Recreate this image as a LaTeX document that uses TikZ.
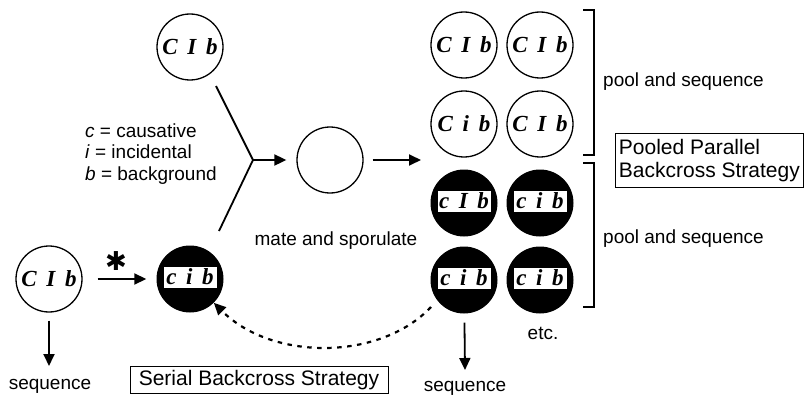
\documentclass[tikz,border=0pt]{standalone}
\usepackage{fontspec}
\setmainfont{Liberation Sans}
\newfontfamily\geno{Liberation Serif}
\newfontfamily\symb{DejaVu Sans}
\usetikzlibrary{arrows.meta}
\newcommand{\gt}[3]{{\geno\bfseries\itshape #1\hspace{0.42em}#2\hspace{0.42em}#3}}
\begin{document}
\begin{tikzpicture}[x=1pt,y=-1pt,
  txt/.style={font=\fontsize{19}{21}\selectfont, inner sep=0pt},
  boxtxt/.style={font=\fontsize{21}{24}\selectfont, draw, line width=0.7pt},
  cir/.style={circle, draw, line width=1.3pt, minimum size=66pt, inner sep=0pt,
              font=\fontsize{23}{23}\selectfont},
  blk/.style={circle, fill=black, minimum size=67pt, inner sep=0pt},
  tag/.style={fill=white, draw=black, line width=0.8pt, minimum width=54pt,
              minimum height=22pt, inner sep=0pt, font=\fontsize{23}{23}\selectfont},
  arr/.style={-{Triangle[length=12pt,width=11pt]}, line width=1.8pt},
  link/.style={line width=1.8pt}]
\useasboundingbox (0,0) rectangle (804,396);

% parent strain and the fork into mating
\node[cir] (top) at (190,47) {\gt CIb};
\coordinate (fu) at (216,86);
\coordinate (fv) at (253,160);
\coordinate (fl) at (219,231);
\draw[link] (fu) -- (fv) -- (fl);
\node[cir] (mate) at (330,160) {};
\draw[arr, shorten >=10pt] (fv) -- (mate);
\node[txt] (mlab) at (336,241) {mate and sporulate};

% legend
\node[txt, anchor=west, align=left, font=\fontsize{19}{21.5}\selectfont] (leg) at (85,154)
  {\textit{c} = causative\\ \textit{i} = incidental\\ \textit{b} = background};

% segregant pools
\node[cir] (a1) at (464,45) {\gt CIb};
\node[cir] (a2) at (540,45) {\gt CIb};
\node[cir] (b1) at (464,124) {\gt Cib};
\node[cir] (b2) at (540,124) {\gt CIb};
\node[blk] (c1) at (464,203) {};
\node[blk] (c2) at (540,203) {};
\node[blk] (d1) at (464,280) {};
\node[blk] (d2) at (540,280) {};
\node[tag] (c1t) at (464,201) {\gt cIb};
\node[tag] (c2t) at (540,201) {\gt cib};
\node[tag] (d1t) at (464,278) {\gt cib};
\node[tag] (d2t) at (540,278) {\gt cib};
\coordinate (gin) at (421,160);
\draw[arr, shorten <=9pt] (mate) -- (gin);
\node[txt] (etc) at (543,333) {etc.};

% brackets
\draw[line width=1.6pt] (583,10) -- (594,10) -- (594,155) -- (583,155);
\draw[line width=1.6pt] (583,163) -- (594,163) -- (594,307) -- (583,307);
\node[txt, anchor=west] (pq1) at (603,82) {pool and sequence};
\node[txt, anchor=west] (pq2) at (603,239) {pool and sequence};
\node[boxtxt, align=left, anchor=north west, inner sep=3pt, minimum width=188pt,
      minimum height=54pt, font=\fontsize{21}{23.5}\selectfont] (ppb) at (615,133)
  {Pooled Parallel\\Backcross Strategy};

% serial backcross
\node[cir] (p0) at (49,279) {\gt CIb};
\node[blk] (p1) at (190,279) {};
\node[tag] (p1t) at (190,277) {\gt cib};
\draw[arr, shorten <=15pt, shorten >=10pt] (p0) -- (p1);
\node[inner sep=0pt, font=\symb\fontsize{26}{26}\selectfont] (ast) at (116,261) {✱};
\coordinate (s0) at (49,366);
\draw[arr, shorten <=8pt] (p0) -- (s0);
\node[txt] (seq0) at (50,386) {sequence};
\coordinate (s1) at (465,370);
\draw[arr, shorten <=9pt] (d1) -- (s1);
\node[txt] (seq1) at (465,388) {sequence};
\coordinate (dstart) at (431,307);
\draw[-{Triangle[length=12pt,width=11pt]}, line width=2.2pt, dash pattern=on 4.5pt off 5.5pt]
  (dstart) .. controls (380,361) and (272,361) .. (p1.-45);
\node[boxtxt, inner sep=3pt, minimum width=258pt, minimum height=27pt] (sbs) at (259,380)
  {Serial Backcross Strategy};
\end{tikzpicture}
\end{document}
